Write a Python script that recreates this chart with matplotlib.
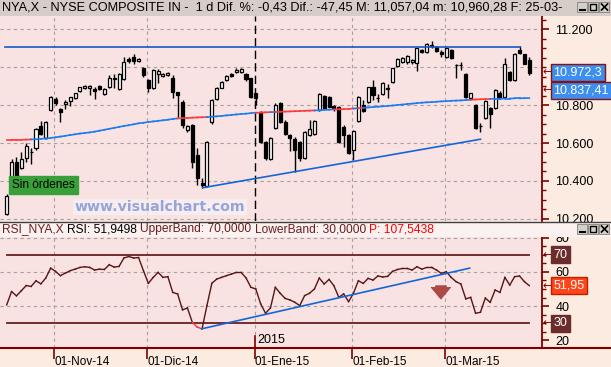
import numpy as np
import pandas as pd
import matplotlib
matplotlib.use('Agg')
import matplotlib.pyplot as plt
from matplotlib import font_manager
from matplotlib.patches import Rectangle
from matplotlib.lines import Line2D

# ---- data ----
START, END = '2014-10-20', '2015-03-25'
HOLIDAYS = ['2014-11-27', '2014-12-25', '2015-01-01', '2015-01-19', '2015-02-16']
MONTHS_ES = {11: 'Nov', 12: 'Dic', 1: 'Ene', 2: 'Feb', 3: 'Mar'}

opens = [10224, 10387, 10498, 10470, 10523, 10550, 10572, 10692, 10625, 10773,
         10833, 10780, 10804, 10822, 10836, 10876, 10889, 10889, 10885, 10901,
         10857, 10896, 10942, 10885, 10938, 11044, 11054, 11035, 10994, 10933,
         10892, 10963, 10956, 10959, 10945, 10868, 10818, 10669, 10695, 10537,
         10387, 10375, 10709, 10833, 10892, 10933, 10963, 10973, 10973, 10965,
         10942, 10862, 10762, 10607, 10516, 10681, 10810, 10713, 10642, 10621,
         10604, 10523, 10642, 10646, 10774, 10850, 10845, 10795, 10792, 10686,
         10642, 10563, 10718, 10800, 10818, 10898, 10836, 10857, 10892, 10921,
         11009, 11030, 11026, 11026, 11021, 11091, 11079, 11114, 11109, 11079,
         11053, 11091, 11012, 11012, 10963, 10840, 10801, 10690, 10730, 10783,
         10783, 10862, 10845, 10973, 10933, 11091, 11068, 11040]
highs = [10330, 10515, 10528, 10555, 10598, 10576, 10680, 10716, 10715, 10850,
         10845, 10785, 10827, 10845, 10866, 10898, 10907, 10907, 10898, 10905,
         10888, 10960, 10963, 10968, 11056, 11056, 11068, 11047, 11000, 10938,
         10990, 10989, 10968, 10975, 10959, 10872, 10825, 10695, 10700, 10572,
         10414, 10612, 10830, 10895, 10925, 10960, 10970, 10995, 10998, 10970,
         10946, 10866, 10770, 10612, 10630, 10810, 10815, 10720, 10648, 10630,
         10610, 10665, 10722, 10722, 10862, 10856, 10850, 10800, 10798, 10695,
         10650, 10670, 10850, 10826, 10898, 10933, 10857, 10920, 10910, 10998,
         11048, 11056, 11065, 11042, 11104, 11096, 11126, 11139, 11114, 11090,
         11108, 11096, 11020, 11030, 10968, 10866, 10806, 10704, 10826, 10790,
         10885, 10874, 11047, 10980, 11074, 11114, 11072, 11057.04]
lows = [10218, 10380, 10387, 10462, 10500, 10488, 10565, 10642, 10620, 10770,
        10801, 10709, 10780, 10797, 10830, 10872, 10885, 10854, 10833, 10880,
        10852, 10892, 10889, 10880, 10932, 11021, 11016, 11030, 10950, 10871,
        10886, 10915, 10950, 10954, 10836, 10739, 10680, 10660, 10470, 10378,
        10364, 10370, 10700, 10828, 10888, 10928, 10950, 10968, 10970, 10930,
        10840, 10801, 10600, 10510, 10510, 10676, 10705, 10640, 10560, 10449,
        10505, 10518, 10636, 10640, 10770, 10780, 10788, 10770, 10600, 10580,
        10540, 10510, 10712, 10762, 10812, 10826, 10818, 10852, 10836, 10916,
        11004, 11025, 11020, 11020, 10980, 11074, 11074, 11100, 11080, 11056,
        11048, 11046, 10945, 10985, 10840, 10835, 10676, 10660, 10725, 10681,
        10778, 10833, 10840, 10928, 10928, 11070, 11016, 10960.28]
closes = [10322, 10498, 10410, 10516, 10584, 10553, 10674, 10650, 10709, 10841,
          10810, 10762, 10818, 10841, 10862, 10894, 10903, 10903, 10875, 10884,
          10884, 10945, 10936, 10963, 11026, 11033, 11033, 11044, 10959, 10889,
          10986, 10980, 10965, 10970, 10868, 10854, 10695, 10692, 10502, 10414,
          10380, 10604, 10827, 10889, 10920, 10956, 10956, 10986, 10989, 10938,
          10845, 10836, 10607, 10519, 10625, 10801, 10713, 10646, 10625, 10563,
          10519, 10657, 10674, 10716, 10857, 10787, 10792, 10783, 10607, 10642,
          10546, 10665, 10845, 10769, 10894, 10854, 10838, 10915, 10886, 10994,
          11044, 11051, 11061, 11038, 11100, 11079, 11121, 11116, 11086, 11068,
          11104, 11051, 11010, 11010, 10845, 10862, 10681, 10690, 10822, 10752,
          10880, 10840, 11016, 10933, 11068, 11074, 11019.75, 10972.3]
ma_line = [10616, 10616, 10617, 10617, 10618, 10619, 10620, 10622, 10624, 10627,
           10630, 10634, 10638, 10642, 10646, 10650, 10653, 10656, 10660, 10665,
           10670, 10675, 10680, 10685, 10690, 10694, 10699, 10704, 10707, 10711,
           10714, 10717, 10720, 10723, 10727, 10730, 10731, 10732, 10734, 10735,
           10736, 10737, 10739, 10741, 10743, 10746, 10748, 10751, 10753, 10755,
           10758, 10760, 10761, 10762, 10763, 10764, 10765, 10766, 10767, 10768,
           10769, 10770, 10771, 10772, 10773, 10775, 10776, 10777, 10778, 10779,
           10780, 10782, 10784, 10786, 10788, 10790, 10792, 10794, 10796, 10798,
           10801, 10803, 10806, 10808, 10811, 10813, 10815, 10816, 10818, 10820,
           10821, 10823, 10824, 10825, 10827, 10828, 10830, 10831, 10832, 10833,
           10834, 10834, 10835, 10835, 10836, 10836, 10837, 10837.41]
rsi = [40.7, 48.5, 46.0, 49.0, 52.0, 51.5, 54.8, 53.0, 56.4, 62.2,
       60.3, 57.8, 59.3, 60.7, 61.6, 62.6, 63.0, 62.6, 61.1, 61.6,
       61.4, 64.2, 62.8, 63.2, 68.1, 69.0, 68.1, 68.4, 60.7, 53.3,
       56.8, 59.7, 56.8, 57.2, 48.0, 47.1, 37.8, 38.9, 30.6, 27.7,
       26.7, 40.3, 53.3, 55.8, 56.8, 57.8, 58.7, 59.7, 59.7, 56.5,
       51.0, 50.0, 41.3, 35.8, 38.9, 51.0, 47.5, 44.5, 43.6, 42.2,
       40.3, 46.1, 47.5, 50.0, 56.4, 52.9, 55.6, 51.9, 45.1, 47.1,
       42.6, 47.5, 54.8, 53.3, 56.2, 55.2, 57.6, 57.0, 57.4, 60.3,
       61.4, 62.0, 62.0, 61.1, 63.0, 61.6, 62.6, 62.6, 61.1, 59.1,
       60.1, 56.8, 54.3, 52.9, 44.2, 45.1, 35.8, 36.4, 44.7, 42.2,
       49.4, 48.0, 56.8, 52.3, 57.2, 57.6, 54.3, 51.95]

resist_level = 11107
resist_span = [-0.3, 105.2]
trend_price_x = [40.2, 97]
trend_price_y = [10364, 10620]
trend_rsi_x = [39.9, 94.8]
trend_rsi_y = [26.7, 62.2]
rsi_bands = [70, 30]
signal_idx = 88.9
signal_rsi = [53.5, 42.5]

title = ("NYA,X - NYSE COMPOSITE IN -  1 d Dif. %: -0,43 Dif.: -47,45 "
         "M: 11,057,04 m: 10,960,28 F: 25-03-")

# ---- style ----
W, H = 611, 367
DARKRED = '#800000'
PLOT_BG = '#f8e2e2'
SIDE_BG = '#fcebe0'
GRID = '#a8a0a0'
LABEL_SIZE = 8.5

installed = {f.name for f in font_manager.fontManager.ttflist}
FONT = 'Liberation Sans Narrow' if 'Liberation Sans Narrow' in installed else 'Liberation Sans'
plt.rcParams['font.family'] = [FONT, 'DejaVu Sans']


def fx(px):
    return px / W


def fy(py):
    return 1 - py / H


days = pd.bdate_range(START, END)
days = days[~days.isin(pd.to_datetime(HOLIDAYS))]
x = np.arange(len(days))

# month ticks at the first session of each month
month_pos, month_lab = [], []
for m in pd.date_range(START, END, freq='MS'):
    first = np.searchsorted(days, m)
    month_pos.append(first - 0.25)
    month_lab.append(f"01-{MONTHS_ES[m.month]}-{m.strftime('%y')}")
jan_pos = month_pos[month_lab.index('01-Ene-15')]

fig = plt.figure(figsize=(W / 100, H / 100), dpi=100, facecolor=SIDE_BG)
ax = fig.add_axes([0, fy(221), fx(541.5), (221 - 16) / H], facecolor=PLOT_BG)
rx = fig.add_axes([0, fy(348), fx(541.5), (348 - 237) / H], facecolor=PLOT_BG)
xlim = (-1.37, 109.5)

# ---- price panel ----
ax.set_xlim(*xlim)
ax.set_ylim(10188, 11271)
for lvl in range(10200, 11201, 200):
    ax.axhline(lvl, color=GRID, lw=0.8, ls=(0, (3, 3)), zorder=1)
for p in month_pos:
    if p == jan_pos:
        ax.axvline(p, color='black', lw=1, ls=(0, (6, 3)), zorder=2)
    else:
        ax.axvline(p, color=GRID, lw=0.8, ls=(0, (3, 3)), zorder=1)

for i in x:
    o, h, l, c = opens[i], highs[i], lows[i], closes[i]
    ax.vlines(i, l, h, color='black', lw=1, zorder=3)
    face = 'white' if c > o else 'black'
    ax.bar(i, abs(c - o), bottom=min(o, c), width=0.62, color=face,
           edgecolor='black', lw=0.9, zorder=4)

for i in range(1, len(x)):
    col = '#ff3838' if closes[i] < ma_line[i] else '#1a7cf0'
    ax.plot([i - 1, i], [ma_line[i - 1], ma_line[i]], color=col, lw=1.2, zorder=5)

ax.plot(resist_span, [resist_level] * 2, color='#1458c8', lw=1.2, zorder=5)
ax.plot(trend_price_x, trend_price_y, color='#1466d8', lw=1.2, zorder=5)

price_ticks = [v for v in range(10200, 11201, 200) if v != 11000]
ax.yaxis.tick_right()
ax.set_yticks(price_ticks)
ax.set_yticklabels([f"{v // 1000}.{v % 1000:03d}" for v in price_ticks])
ax.set_yticks(range(10200, 11251, 50), minor=True)
ax.tick_params(axis='y', which='major', direction='out', length=5, width=1.2,
               color=DARKRED, labelsize=LABEL_SIZE + 0.5, pad=5)
ax.tick_params(axis='y', which='minor', direction='out', length=3, width=1,
               color=DARKRED)
ax.set_xticks([])
for s in ['top', 'left', 'bottom']:
    ax.spines[s].set_visible(False)
ax.spines['right'].set_color(DARKRED)
ax.spines['right'].set_linewidth(1.3)

ax.text(0.022, 0.176, 'Sin órdenes', transform=ax.transAxes, fontsize=8.5,
        va='center', ha='left', color='black', zorder=8,
        bbox=dict(boxstyle='square,pad=0.25', fc='#38a038', ec='#38a038'))
wm = fig.text(fx(160), fy(207), 'www.visualchart.com', ha='center', va='center',
              fontsize=11, weight='bold', color='#98a4d8', family='DejaVu Sans',
              bbox=dict(boxstyle='square,pad=0.1', fc='#f6f0f6', ec='none', alpha=0.8))

# ---- RSI panel ----
rx.set_xlim(*xlim)
rx.set_ylim(15.5, 80.4)
for lvl in [80, 60, 40]:
    rx.axhline(lvl, color=GRID, lw=0.8, ls=(0, (3, 3)), zorder=1)
for p in month_pos:
    rx.axvline(p, color=GRID, lw=0.8, ls=(0, (3, 3)), zorder=1)
for b in rsi_bands:
    rx.plot([x[0], x[-1]], [b, b], color='#6a1e1e', lw=1.3, zorder=2)
for i in range(1, len(x)):
    col = '#ff3030' if rsi[i] < 30 else '#5a1414'
    rx.plot([i - 1, i], [rsi[i - 1], rsi[i]], color=col, lw=1, zorder=3)
rx.plot(trend_rsi_x, trend_rsi_y, color='#1466d8', lw=1.2, zorder=4)
rx.annotate('', xy=(signal_idx, signal_rsi[1]), xytext=(signal_idx, signal_rsi[0]),
            arrowprops=dict(arrowstyle='simple,head_width=1.0,head_length=0.6,tail_width=0.55',
                            mutation_scale=14, fc='#b04848', ec='#9a3a3a', lw=0.5),
            zorder=6)

rsi_ticks = [20, 40, 60, 80]
rx.yaxis.tick_right()
rx.set_yticks(rsi_ticks)
rx.set_yticks(range(20, 81, 5), minor=True)
rx.tick_params(axis='y', which='major', direction='out', length=5, width=1.2,
               color=DARKRED, labelsize=LABEL_SIZE + 0.5, pad=5)
rx.tick_params(axis='y', which='minor', direction='out', length=3, width=1,
               color=DARKRED)
rx.set_xticks(month_pos)
rx.set_xticklabels(month_lab)
rx.tick_params(axis='x', direction='out', length=8, width=1.2, color=DARKRED,
               labelsize=LABEL_SIZE, pad=-2)
for lab in rx.get_xticklabels():
    lab.set_horizontalalignment('left')
for s in ['top', 'left']:
    rx.spines[s].set_visible(False)
rx.spines['right'].set_color(DARKRED)
rx.spines['right'].set_linewidth(1.3)
rx.spines['bottom'].set_visible(False)
rx.plot([jan_pos, jan_pos], [0, 0.11], transform=rx.get_xaxis_transform(),
        color=DARKRED, lw=1.2, clip_on=False, zorder=5)
rx.text(jan_pos + 0.5, 0.02, '2015', transform=rx.get_xaxis_transform(),
        fontsize=LABEL_SIZE + 0.5, va='bottom', ha='left')

# ---- window chrome ----
fig.patches.append(Rectangle((0, fy(15.5)), 1, 15.5 / H, transform=fig.transFigure,
                             fc='#d6cdc9', ec='none', zorder=1))
fig.patches.append(Rectangle((0, fy(236.5)), 1, 15 / H, transform=fig.transFigure,
                             fc='#fbf1f1', ec='none', zorder=1))
fig.add_artist(Line2D([0, 1], [fy(221.5)] * 2, color='#404040', lw=1))
fig.add_artist(Line2D([0, 1], [fy(348)] * 2, color=DARKRED, lw=1.5))


def pline(xs, ys, lw=1.2):
    fig.add_artist(Line2D([fx(v) for v in xs], [fy(v) for v in ys],
                          color='black', lw=lw, zorder=3))


# minimise / maximise / close buttons drawn as shapes
for ytop in [2, 224]:
    for k in range(3):
        x0 = 577 + k * 11
        fig.patches.append(Rectangle((fx(x0), fy(ytop + 10)), 10 / W, 10 / H,
                                     transform=fig.transFigure, fc='#d4d0c8',
                                     ec='#808080', lw=0.6, zorder=2))
    pline([579.5, 584.5], [ytop + 8, ytop + 8], lw=1.5)
    fig.patches.append(Rectangle((fx(590), fy(ytop + 8)), 6 / W, 6 / H,
                                 transform=fig.transFigure, fc='none',
                                 ec='black', lw=1, zorder=3))
    pline([601.5, 607.5], [ytop + 2, ytop + 8])
    pline([601.5, 607.5], [ytop + 8, ytop + 2])

renderer = fig.canvas.get_renderer()


def fit(t, width_px):
    bb = t.get_window_extent(renderer=renderer)
    t.set_fontsize(t.get_fontsize() * width_px / bb.width)


tt = fig.text(fx(2), fy(8), title, ha='left', va='center', fontsize=9, zorder=3)
fit(tt, 564)
fit(wm, 170)

# RSI header, several colours in a row, scaled to the reference width
parts = [('RSI_NYA,X ', '#6a1e1e'), ('RSI: 51,9498 ', 'black'),
         ('UpperBand: 70,0000 ', '#6a1e1e'), ('LowerBand: 30,0000 ', '#6a1e1e'),
         ('P: 107,5438', '#ff0000')]
head = [fig.text(fx(2), fy(229), txt, ha='left', va='center', fontsize=9.5,
                 color=col, zorder=3) for txt, col in parts]
total = sum(t.get_window_extent(renderer=renderer).width for t in head)
size = 9.5 * 434 / total
cur = 2
for t in head:
    t.set_fontsize(size)
    t.set_x(fx(cur))
    cur += t.get_window_extent(renderer=renderer).width


# right-hand value labels
def value_tag(axis, val, text, fc, ec, dy=0):
    axis.annotate('←', xy=(1, val), xycoords=axis.get_yaxis_transform(),
                  xytext=(1, dy), textcoords='offset pixels', ha='left', va='center',
                  fontsize=8, color=DARKRED, family='DejaVu Sans',
                  annotation_clip=False, zorder=9)
    axis.annotate(text, xy=(1, val), xycoords=axis.get_yaxis_transform(),
                  xytext=(12, dy), textcoords='offset pixels', ha='left', va='center',
                  fontsize=LABEL_SIZE + 0.5, color='white', annotation_clip=False,
                  zorder=10, bbox=dict(boxstyle='square,pad=0.2', fc=fc, ec=ec, lw=1))


value_tag(ax, closes[-1], '10.972,3', '#3c8ef0', '#8b1010')
value_tag(ax, ma_line[-1], '10.837,41', '#3c8ef0', '#8b1010', dy=8)
value_tag(rx, 70, '70', '#6b2c2c', '#6b2c2c')
value_tag(rx, rsi[-1], '51,95', '#ff4418', '#c02000')
value_tag(rx, 30, '30', '#6b2c2c', '#6b2c2c')

fig.savefig('out.png', dpi=100, facecolor=SIDE_BG)
